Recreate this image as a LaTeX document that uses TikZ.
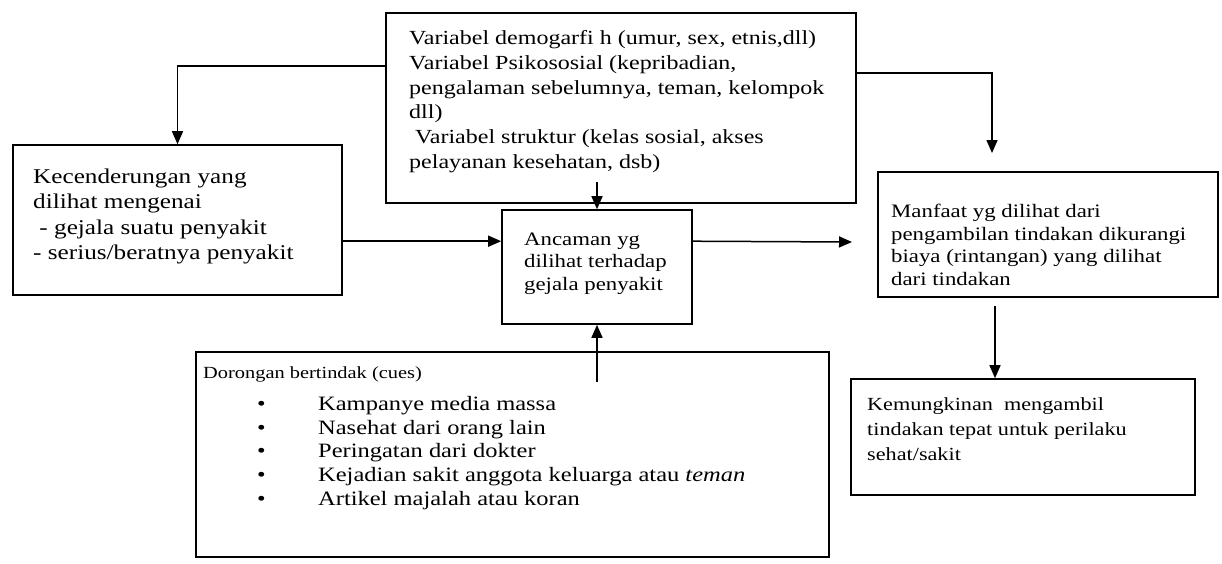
\documentclass[tikz,border=0pt]{standalone}
\usepackage{fontspec}
\setmainfont{Liberation Serif}[FakeStretch=1.2]
\usetikzlibrary{arrows.meta,calc,fit}
\begin{document}
\begin{tikzpicture}[x=1pt,y=-1pt,
  box/.style={draw, line width=1.6pt, inner sep=0pt},
  txt/.style={anchor=north west, inner sep=0pt, align=left},
  arr/.style={line width=1.5pt, -{Triangle[length=13pt,width=11pt]}}]
\useasboundingbox[fill=white] (0,0) rectangle (1222,563);

% boxes
\node[box, fit={(386,13)(856,203)}] (vars) {};
\node[box, fit={(13,145)(342,295)}] (kec) {};
\node[box, fit={(502,210)(692,324)}] (anc) {};
\node[box, fit={(878,172)(1218,297)}] (manf) {};
\node[box, fit={(851,379)(1195,495)}] (kem) {};
\node[box, fit={(196,352)(829,557)}] (cues) {};

% texts
\node[txt, font=\fontsize{20}{24.8}\selectfont] (varstxt) at (409,30.3)
  {Variabel demogarfi h (umur, sex, etnis,dll)\\
   Variabel Psikososial (kepribadian,\\
   pengalaman sebelumnya, teman, kelompok\\
   dll)\\
   \hspace{0.3em}Variabel struktur (kelas sosial, akses\\
   pelayanan kesehatan, dsb)};
\node[txt, font=\fontsize{21}{25.5}\selectfont] (kectxt) at (33,168.7)
  {Kecenderungan yang\\
   dilihat mengenai\\
   \hspace{0.3em}- gejala suatu penyakit\\
   - serius/beratnya penyakit};
\node[txt, font=\fontsize{19}{22.5}\selectfont] (anctxt) at (524,232.5)
  {Ancaman yg\\
   dilihat terhadap\\
   gejala penyakit};
\node[txt, font=\fontsize{19}{22.7}\selectfont] (manftxt) at (891,204)
  {Manfaat yg dilihat dari\\
   pengambilan tindakan dikurangi\\
   biaya (rintangan) yang dilihat\\
   dari tindakan};
\node[txt, font=\fontsize{18.5}{25}\selectfont] (kemtxt) at (867,397.4)
  {Kemungkinan\ \ mengambil\\
   tindakan tepat untuk perilaku\\
   sehat/sakit};
\node[txt, font=\fontsize{17}{20}\selectfont] (cuestitle) at (203,366)
  {Dorongan bertindak (cues)};
\node[txt, font=\fontsize{20.4}{23.7}\selectfont] (cueslist) at (257,396)
  {\makebox[61pt][l]{•}Kampanye media massa\\
   \makebox[61pt][l]{•}Nasehat dari orang lain\\
   \makebox[61pt][l]{•}Peringatan dari dokter\\
   \makebox[61pt][l]{•}Kejadian sakit anggota keluarga atau \textit{teman}\\
   \makebox[61pt][l]{•}Artikel majalah atau koran};

% free ends of connectors
\coordinate (varsout) at (597,182);
\coordinate (cuesout) at (597,382);
\coordinate (manfend) at (992,153);
\coordinate (ancend) at (852,242);
\coordinate (manfout) at (995,306);

% connectors
\draw[arr] ($(vars.north west)+(0,54)$) -| (kec.north);
\draw[arr] ($(vars.north east)+(0,61)$) -| (manfend);
\draw[arr] (varsout) -- (anc.north);
\draw[arr] ($(kec.north east)+(0,97)$) -- ($(anc.north west)+(0,32)$);
\draw[arr] ($(anc.north east)+(0,32)$) -- (ancend);
\draw[arr] (cuesout) -- (anc.south);
\draw[arr] (manfout) -- (kem.north -| manfout);
\end{tikzpicture}
\end{document}
